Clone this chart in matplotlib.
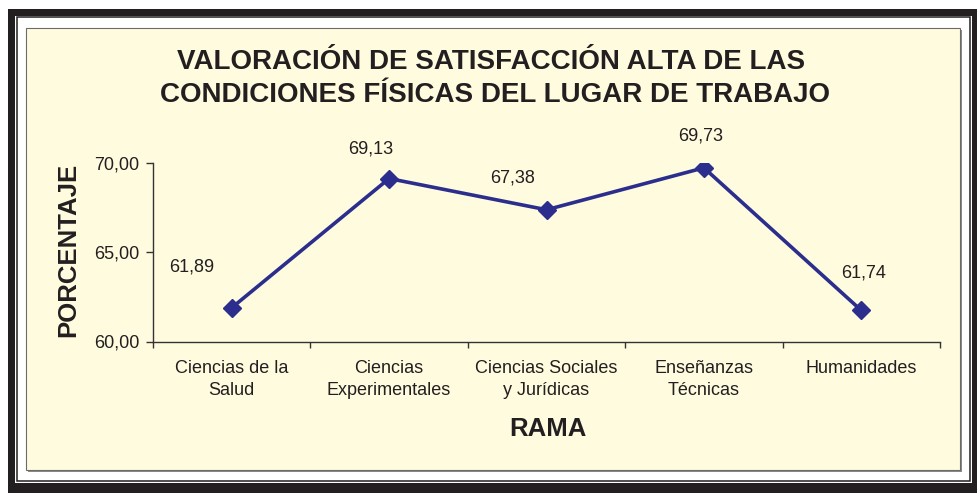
import matplotlib
matplotlib.use("Agg")
import matplotlib.pyplot as plt
from matplotlib.patches import Rectangle

plt.rcParams['font.family'] = ['Liberation Sans', 'DejaVu Sans']

ramas = ['Ciencias de la\nSalud', 'Ciencias\nExperimentales',
         'Ciencias Sociales\ny Jurídicas', 'Enseñanzas\nTécnicas', 'Humanidades']
porcentaje = [61.89, 69.13, 67.38, 69.73, 61.74]
etiquetas = ['61,89', '69,13', '67,38', '69,73', '61,74']
yticks = [60, 65, 70]
ytick_labels = ['60,00', '65,00', '70,00']
titulo = ['VALORACIÓN DE SATISFACCIÓN ALTA DE LAS',
          'CONDICIONES FÍSICAS DEL LUGAR DE TRABAJO']

# desplazamiento de cada etiqueta de valor (px)
offsets = [(-40, 41), (-18, 30), (-34, 32), (-3, 32), (2, 37)]

W, H = 977, 493
fig = plt.figure(figsize=(W / 100, H / 100), dpi=100)
fig.patch.set_facecolor('white')

def rect(x0, y0, x1, y1, **kw):
    # coordenadas en pixeles desde la esquina superior izquierda
    r = Rectangle((x0 / W, 1 - y1 / H), (x1 - x0) / W, (y1 - y0) / H,
                  transform=fig.transFigure, **kw)
    fig.patches.append(r)

negro = '#231F20'
# marco exterior
rect(8, 9, 990, 500, facecolor=negro, edgecolor='none', zorder=0)
rect(15, 15.5, 972, 482.5, facecolor='white', edgecolor='none', zorder=0.1)
rect(17.3, 17.3, 969.8, 480.6, facecolor='none', edgecolor=negro, lw=1.1, zorder=0.2)
# panel con sombra
rect(27.5, 29.5, 961.5, 471.5, facecolor='#8a8a88', edgecolor='none', zorder=0.3)
rect(26, 28, 960, 470, facecolor='#FFFBDE', edgecolor='#6b6b6b', lw=0.8, zorder=0.4)

ax = fig.add_axes([153 / W, 1 - 341.5 / H, (940 - 153) / W, (341.5 - 163) / H])
ax.set_facecolor('none')
ax.set_zorder(2)

x = list(range(len(ramas)))
azul = '#2B2E8C'
ax.plot(x, porcentaje, color=azul, lw=2.6, marker='D', markersize=9,
        markerfacecolor=azul, markeredgecolor=azul)

for xi, v, t, (dx, dy) in zip(x, porcentaje, etiquetas, offsets):
    ax.annotate(t, (xi, v), xytext=(dx, dy), textcoords='offset pixels',
                ha='center', va='center', fontsize=13, color=negro)

ax.set_xlim(-0.5, len(ramas) - 0.5)
ax.set_ylim(60, 70)
ax.set_yticks(yticks)
ax.set_yticklabels(ytick_labels, fontsize=13, color=negro)
ax.set_xticks([i - 0.5 for i in range(len(ramas) + 1)])
ax.set_xticklabels([])
ax.set_xticks(x, minor=True)
ax.set_xticklabels(ramas, minor=True, fontsize=13, color=negro, linespacing=1.45)
ax.tick_params(axis='x', which='minor', length=0, pad=13)
ax.tick_params(axis='x', which='major', direction='out', length=4, width=1, color='#333333')
ax.tick_params(axis='y', direction='out', length=5, width=1, color='#333333', pad=5)

for s in ['top', 'right']:
    ax.spines[s].set_visible(False)
for s in ['left', 'bottom']:
    ax.spines[s].set_color('#333333')
    ax.spines[s].set_linewidth(1)

fig.text(491 / W, 1 - 62 / H, titulo[0], ha='center', va='center',
         fontsize=20, fontweight='bold', color=negro)
fig.text(495 / W, 1 - 95 / H, titulo[1], ha='center', va='center',
         fontsize=20, fontweight='bold', color=negro)
fig.text(68 / W, 1 - 250 / H, 'PORCENTAJE', rotation=90, ha='center', va='center',
         fontsize=18.5, fontweight='bold', color=negro)
fig.text(548 / W, 1 - 429 / H, 'RAMA', ha='center', va='center',
         fontsize=18.5, fontweight='bold', color=negro)

fig.savefig('out.png', dpi=100)
